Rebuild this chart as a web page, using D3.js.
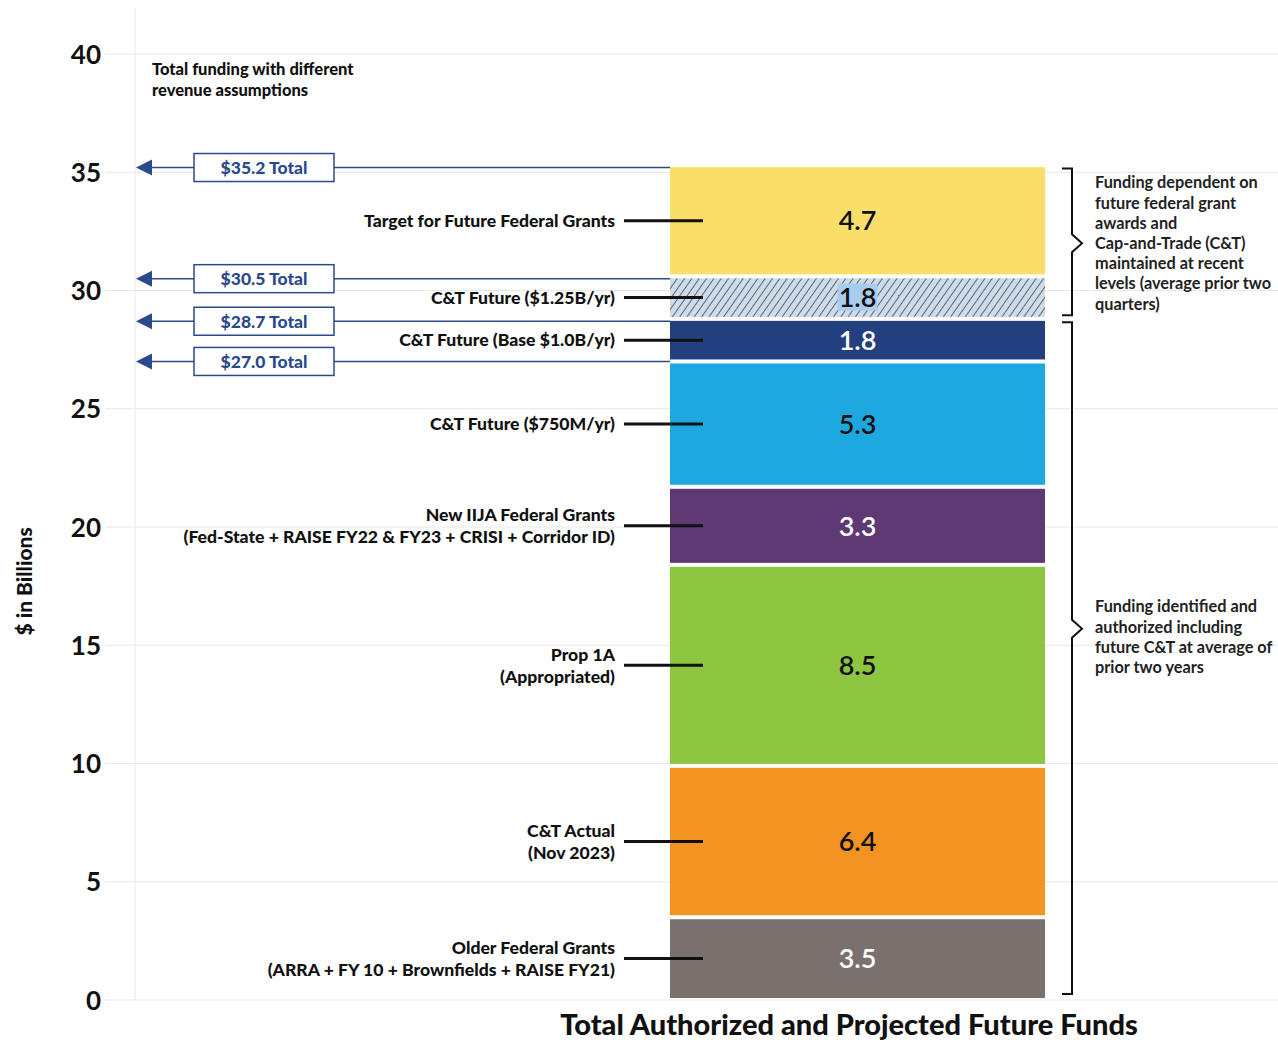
<!DOCTYPE html>
<html>
<head>
<meta charset="utf-8">
<script src="https://cdn.jsdelivr.net/npm/d3@7"></script>
<style>
  body { margin: 0; background: #fff; }
  svg text { font-family: Lato, "Open Sans", sans-serif; }
</style>
</head>
<body>
<div id="chart"></div>
<script>
// --- Data ---
const categories = [
  ["Older Federal Grants", "(ARRA + FY 10 + Brownfields + RAISE FY21)"],
  ["C&T Actual", "(Nov 2023)"],
  ["Prop 1A", "(Appropriated)"],
  ["New IIJA Federal Grants", "(Fed-State + RAISE FY22 & FY23 + CRISI + Corridor ID)"],
  ["C&T Future ($750M/yr)"],
  ["C&T Future (Base $1.0B/yr)"],
  ["C&T Future ($1.25B/yr)"],
  ["Target for Future Federal Grants"]
];
const values = [3.5, 6.4, 8.5, 3.3, 5.3, 1.8, 1.8, 4.7];
const segColors = ["#7a706d", "#f39321", "#8dc440", "#5d3a73", "#1ea8e0", "#233f7f", "hatch", "#f9de6a"];
const valueColors = ["#fff", "#111", "#111", "#fff", "#111", "#fff", "#111", "#111"];
const totals = [35.2, 30.5, 28.7, 27.0];
const yTicks = [0, 5, 10, 15, 20, 25, 30, 35, 40];
const xCategory = "Total Authorized and Projected Future Funds";
const brackets = [
  { from: 28.7, to: 35.2, tip: 32.0, lines: ["Funding dependent on", "future federal grant", "awards and", "Cap-and-Trade (C&T)", "maintained at recent", "levels (average prior two", "quarters)"] },
  { from: 0, to: 28.7, tip: 15.7, lines: ["Funding identified and", "authorized including", "future C&T at average of", "prior two years"] }
];

// --- Layout ---
const W = 1278, H = 1040;
const AXIS_X = 135, GRID_X0 = 105;
const BAR_X0 = 670, BAR_X1 = 1045;
const NAVY = "#2a4a8c";

const svg = d3.select("#chart").append("svg")
  .attr("width", W).attr("height", H);

const y = d3.scaleLinear().domain([0, 40]).range([1000, 54]);
const x = d3.scaleBand().domain([xCategory]).range([BAR_X0, BAR_X1]).padding(0);

// hatch pattern
const defs = svg.append("defs");
const pat = defs.append("pattern")
  .attr("id", "hatch").attr("patternUnits", "userSpaceOnUse")
  .attr("width", 6).attr("height", 6)
  .attr("patternTransform", "rotate(35)");
pat.append("rect").attr("width", 6).attr("height", 6).attr("fill", "#cfdbe7");
pat.append("line").attr("x1", 0).attr("y1", 0).attr("x2", 0).attr("y2", 6)
  .attr("stroke", "#56677d").attr("stroke-width", 2);

// --- Grid + axis ---
svg.append("g").selectAll("line").data(yTicks).join("line")
  .attr("x1", GRID_X0).attr("x2", W)
  .attr("y1", d => y(d)).attr("y2", d => y(d))
  .attr("stroke", "#e8e8e8").attr("stroke-width", 1);
svg.append("line")
  .attr("x1", AXIS_X).attr("x2", AXIS_X).attr("y1", 8).attr("y2", y(0))
  .attr("stroke", "#e8e8e8");

const yAxis = d3.axisLeft(y).tickValues(yTicks).tickSize(0).tickPadding(0);
const gy = svg.append("g").attr("transform", `translate(101,0)`).call(yAxis);
gy.select(".domain").remove();
gy.selectAll("text")
  .style("font-size", "26px").style("font-weight", 700).attr("fill", "#111")
  .attr("dy", "0.35em");

svg.append("text")
  .attr("transform", `translate(32,${y(17.7)}) rotate(-90)`)
  .attr("text-anchor", "middle")
  .style("font-size", "21px").style("font-weight", 900).attr("fill", "#111")
  .text("$ in Billions");

// --- Stacked bar ---
let acc = 0;
const stacked = values.map((v, i) => {
  const d = { i, v, y0: acc, y1: acc + v };
  acc += v;
  return d;
});

const bars = svg.append("g");
bars.selectAll("rect").data(stacked).join("rect")
  .attr("x", x(xCategory))
  .attr("width", x.bandwidth())
  .attr("y", d => y(d.y1) + 2)
  .attr("height", d => y(d.y0) - y(d.y1) - 4)
  .attr("fill", d => segColors[d.i] === "hatch" ? "url(#hatch)" : segColors[d.i]);

// value labels
stacked.forEach(d => {
  const cx = x(xCategory) + x.bandwidth() / 2;
  const cy = y((d.y0 + d.y1) / 2);
  if (segColors[d.i] === "hatch") {
    bars.append("rect")
      .attr("x", cx - 20).attr("y", cy - 14).attr("width", 40).attr("height", 27)
      .attr("fill", "#a9cdee");
  }
  bars.append("text")
    .attr("x", cx).attr("y", cy).attr("dy", "0.36em")
    .attr("text-anchor", "middle")
    .style("font-size", "27px").style("font-weight", 600)
    .attr("fill", valueColors[d.i])
    .text(d.v.toFixed(1));
});

// category labels with leader lines
const labels = svg.append("g");
stacked.forEach(d => {
  const cy = y((d.y0 + d.y1) / 2);
  labels.append("line")
    .attr("x1", 624).attr("x2", 703).attr("y1", cy).attr("y2", cy)
    .attr("stroke", "#111").attr("stroke-width", 3);
  const lines = categories[d.i];
  const t = labels.append("text")
    .attr("text-anchor", "end")
    .style("font-size", "17.6px").style("font-weight", 900).attr("fill", "#111");
  lines.forEach((s, k) => {
    t.append("tspan")
      .attr("x", 615)
      .attr("y", cy + (k - (lines.length - 1) / 2) * 22)
      .attr("dy", "0.35em")
      .text(s);
  });
});

// --- Total arrows ---
svg.append("text")
  .attr("x", 152).attr("y", 75)
  .style("font-size", "16.5px").style("font-weight", 900).attr("fill", "#111")
  .selectAll("tspan").data(["Total funding with different", "revenue assumptions"]).join("tspan")
  .attr("x", 152).attr("dy", (d, i) => i ? 21 : 0).text(d => d);

const arrows = svg.append("g");
totals.forEach(v => {
  const yy = y(v);
  arrows.append("line")
    .attr("x1", BAR_X0).attr("x2", AXIS_X + 16)
    .attr("y1", yy).attr("y2", yy)
    .attr("stroke", NAVY).attr("stroke-width", 1.5);
  arrows.append("path")
    .attr("d", `M${AXIS_X + 17},${yy - 8} L${AXIS_X + 1},${yy} L${AXIS_X + 17},${yy + 8} Z`)
    .attr("fill", NAVY);
  arrows.append("rect")
    .attr("x", 194).attr("y", yy - 14).attr("width", 140).attr("height", 28)
    .attr("fill", "#fff").attr("stroke", NAVY).attr("stroke-width", 1.5);
  arrows.append("text")
    .attr("x", 264).attr("y", yy).attr("dy", "0.36em")
    .attr("text-anchor", "middle")
    .style("font-size", "17.5px").style("font-weight", 900).attr("fill", NAVY)
    .text(`$${v.toFixed(1)} Total`);
});

// --- Brackets ---
const br = svg.append("g");
brackets.forEach((b, bi) => {
  const top = y(b.to) + 1, bot = y(b.from) - 6;
  const mid = y(b.tip);
  br.append("path")
    .attr("d", `M1062,${top} H1072 V${mid - 9} L1082,${mid} L1072,${mid + 9} V${bot} H1062`)
    .attr("fill", "none").attr("stroke", "#111").attr("stroke-width", 2);
  const n = b.lines.length;
  const first = bi === 0 ? mid - (n - 1) / 2 * 20.2 : mid - 22;
  const t = br.append("text")
    .style("font-size", "16.3px").style("font-weight", 700).attr("fill", "#222");
  b.lines.forEach((s, k) => {
    t.append("tspan").attr("x", 1095)
      .attr("y", first + k * 20.2)
      .attr("dy", "0.35em").text(s);
  });
});

// --- X category title ---
svg.append("text")
  .attr("x", 849).attr("y", 1035)
  .attr("text-anchor", "middle")
  .style("font-size", "29px").style("font-weight", 900).attr("fill", "#111")
  .text(xCategory);
</script>
</body>
</html>
